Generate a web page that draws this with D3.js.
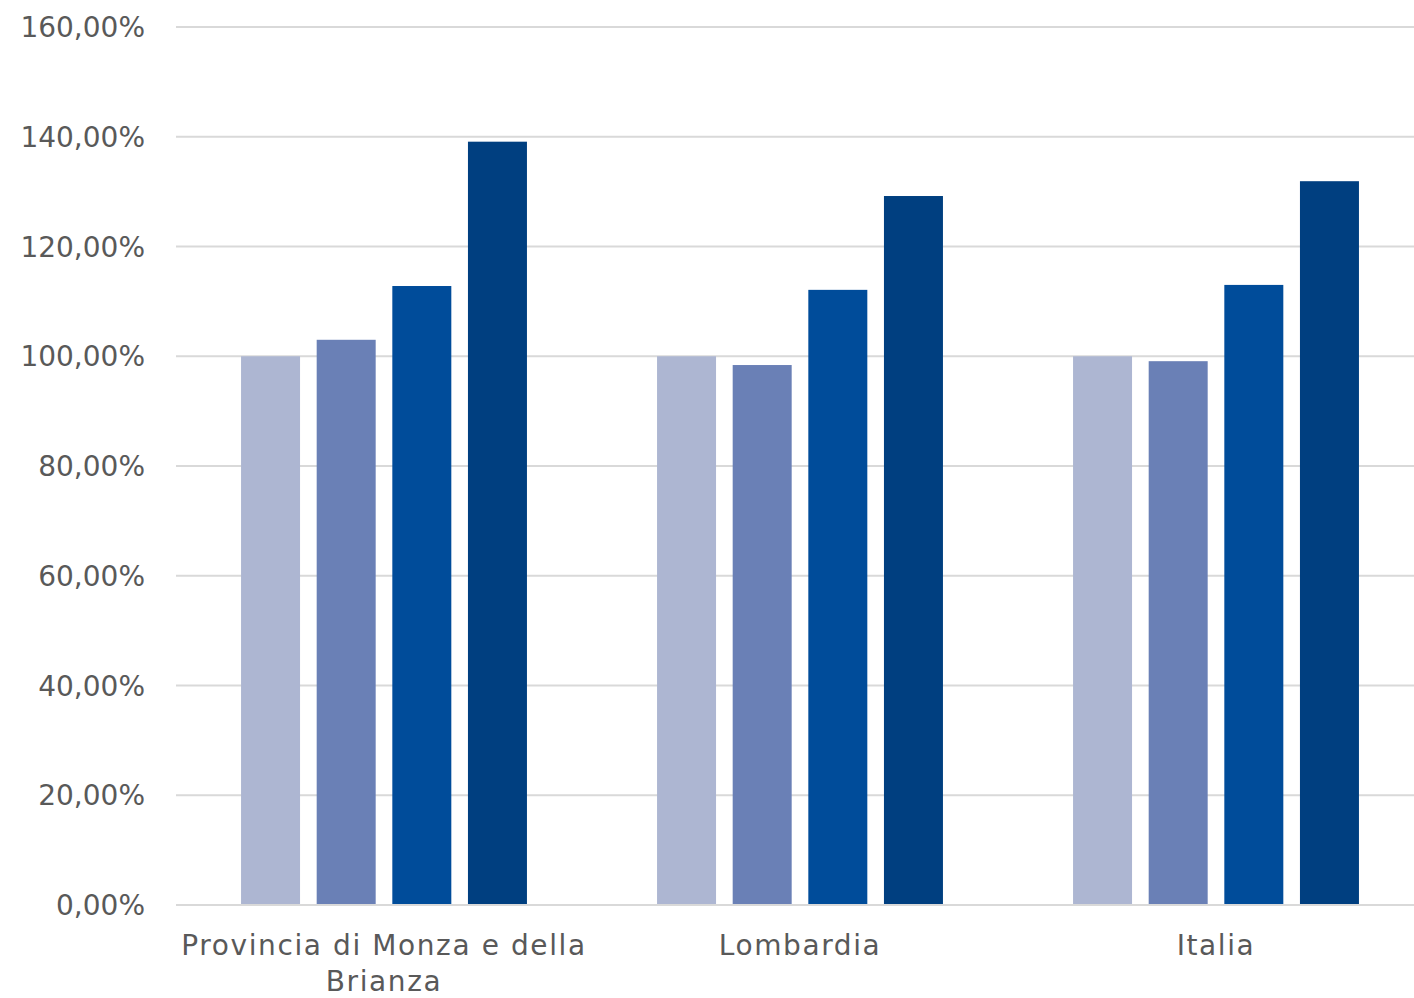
<!DOCTYPE html>
<html>
<head>
<meta charset="utf-8">
<script src="https://cdn.jsdelivr.net/npm/d3@7"></script>
<style>
    body { margin: 0; background: #fff; }
    text { font-family: "DejaVu Sans", sans-serif; fill: #595959; }
</style>
</head>
<body>
<div id="chart"></div>
<script>
const categories = ["Provincia di Monza e della Brianza", "Lombardia", "Italia"];
const seriesNames = ["s1", "s2", "s3", "s4"];
const serie1 = [100.0, 100.0, 100.0];
const serie2 = [103.0, 98.4, 99.1];
const serie3 = [112.8, 112.1, 113.0];
const serie4 = [139.1, 129.2, 131.9];
const yTicks = [0, 20, 40, 60, 80, 100, 120, 140, 160];

const colors = ["#adb6d2", "#6a80b6", "#004c9a", "#003f80"];

const width = 1414;
const height = 998;
const margin = { left: 176, top: 27, bottom: 93 };
const plotRight = 1424; // plot area runs slightly past the picture edge

const svg = d3.select("#chart")
    .append("svg")
    .attr("width", width)
    .attr("height", height);

const x = d3.scaleBand()
    .domain(categories)
    .range([margin.left, plotRight]);

const xInner = d3.scaleBand()
    .domain(seriesNames)
    .range([0, x.bandwidth()])
    .paddingInner(0.22)
    .paddingOuter(0.86);

const y = d3.scaleLinear()
    .domain([0, 160])
    .range([height - margin.bottom, margin.top]);

// gridlines
svg.append("g")
    .selectAll("line")
    .data(yTicks)
    .enter()
    .append("line")
    .attr("x1", margin.left)
    .attr("x2", width)
    .attr("y1", d => y(d))
    .attr("y2", d => y(d))
    .attr("stroke", "#d9d9d9")
    .attr("stroke-width", 2);

// y labels
svg.append("g")
    .selectAll("text")
    .data(yTicks)
    .enter()
    .append("text")
    .attr("x", 145)
    .attr("y", d => y(d))
    .attr("dy", "0.36em")
    .attr("text-anchor", "end")
    .style("font-size", "28px")
    .text(d => d3.format(".2f")(d).replace(".", ",") + "%");

const rows = categories.map((c, i) => ({
    category: c,
    values: [serie1[i], serie2[i], serie3[i], serie4[i]]
}));

const groups = svg.append("g")
    .selectAll("g")
    .data(rows)
    .enter()
    .append("g")
    .attr("transform", d => `translate(${x(d.category)},0)`);

groups.selectAll("rect")
    .data(d => d.values.map((v, j) => ({ key: seriesNames[j], value: v, idx: j })))
    .enter()
    .append("rect")
    .attr("x", d => xInner(d.key))
    .attr("width", xInner.bandwidth())
    .attr("y", d => y(d.value))
    .attr("height", d => y(0) - y(d.value))
    .attr("fill", d => colors[d.idx]);

// baseline on top of bars
svg.append("line")
    .attr("x1", margin.left)
    .attr("x2", width)
    .attr("y1", y(0))
    .attr("y2", y(0))
    .attr("stroke", "#d9d9d9")
    .attr("stroke-width", 2);

// category labels, wrapped to the band width
const labelY = 955;
const lineGap = 36;

const labels = svg.append("g")
    .selectAll("text")
    .data(categories)
    .enter()
    .append("text")
    .attr("text-anchor", "middle")
    .style("font-size", "28px")
    .style("letter-spacing", "1.6px");

labels.each(function(d) {
    const text = d3.select(this);
    const cx = x(d) + x.bandwidth() / 2;
    const words = d.split(" ");
    let line = [];
    let lineNo = 0;
    let tspan = text.append("tspan").attr("x", cx).attr("y", labelY);
    words.forEach(w => {
        line.push(w);
        tspan.text(line.join(" "));
        if (tspan.node().getComputedTextLength() > x.bandwidth() && line.length > 1) {
            line.pop();
            tspan.text(line.join(" "));
            line = [w];
            lineNo++;
            tspan = text.append("tspan").attr("x", cx).attr("y", labelY + lineNo * lineGap).text(w);
        }
    });
});
</script>
</body>
</html>
